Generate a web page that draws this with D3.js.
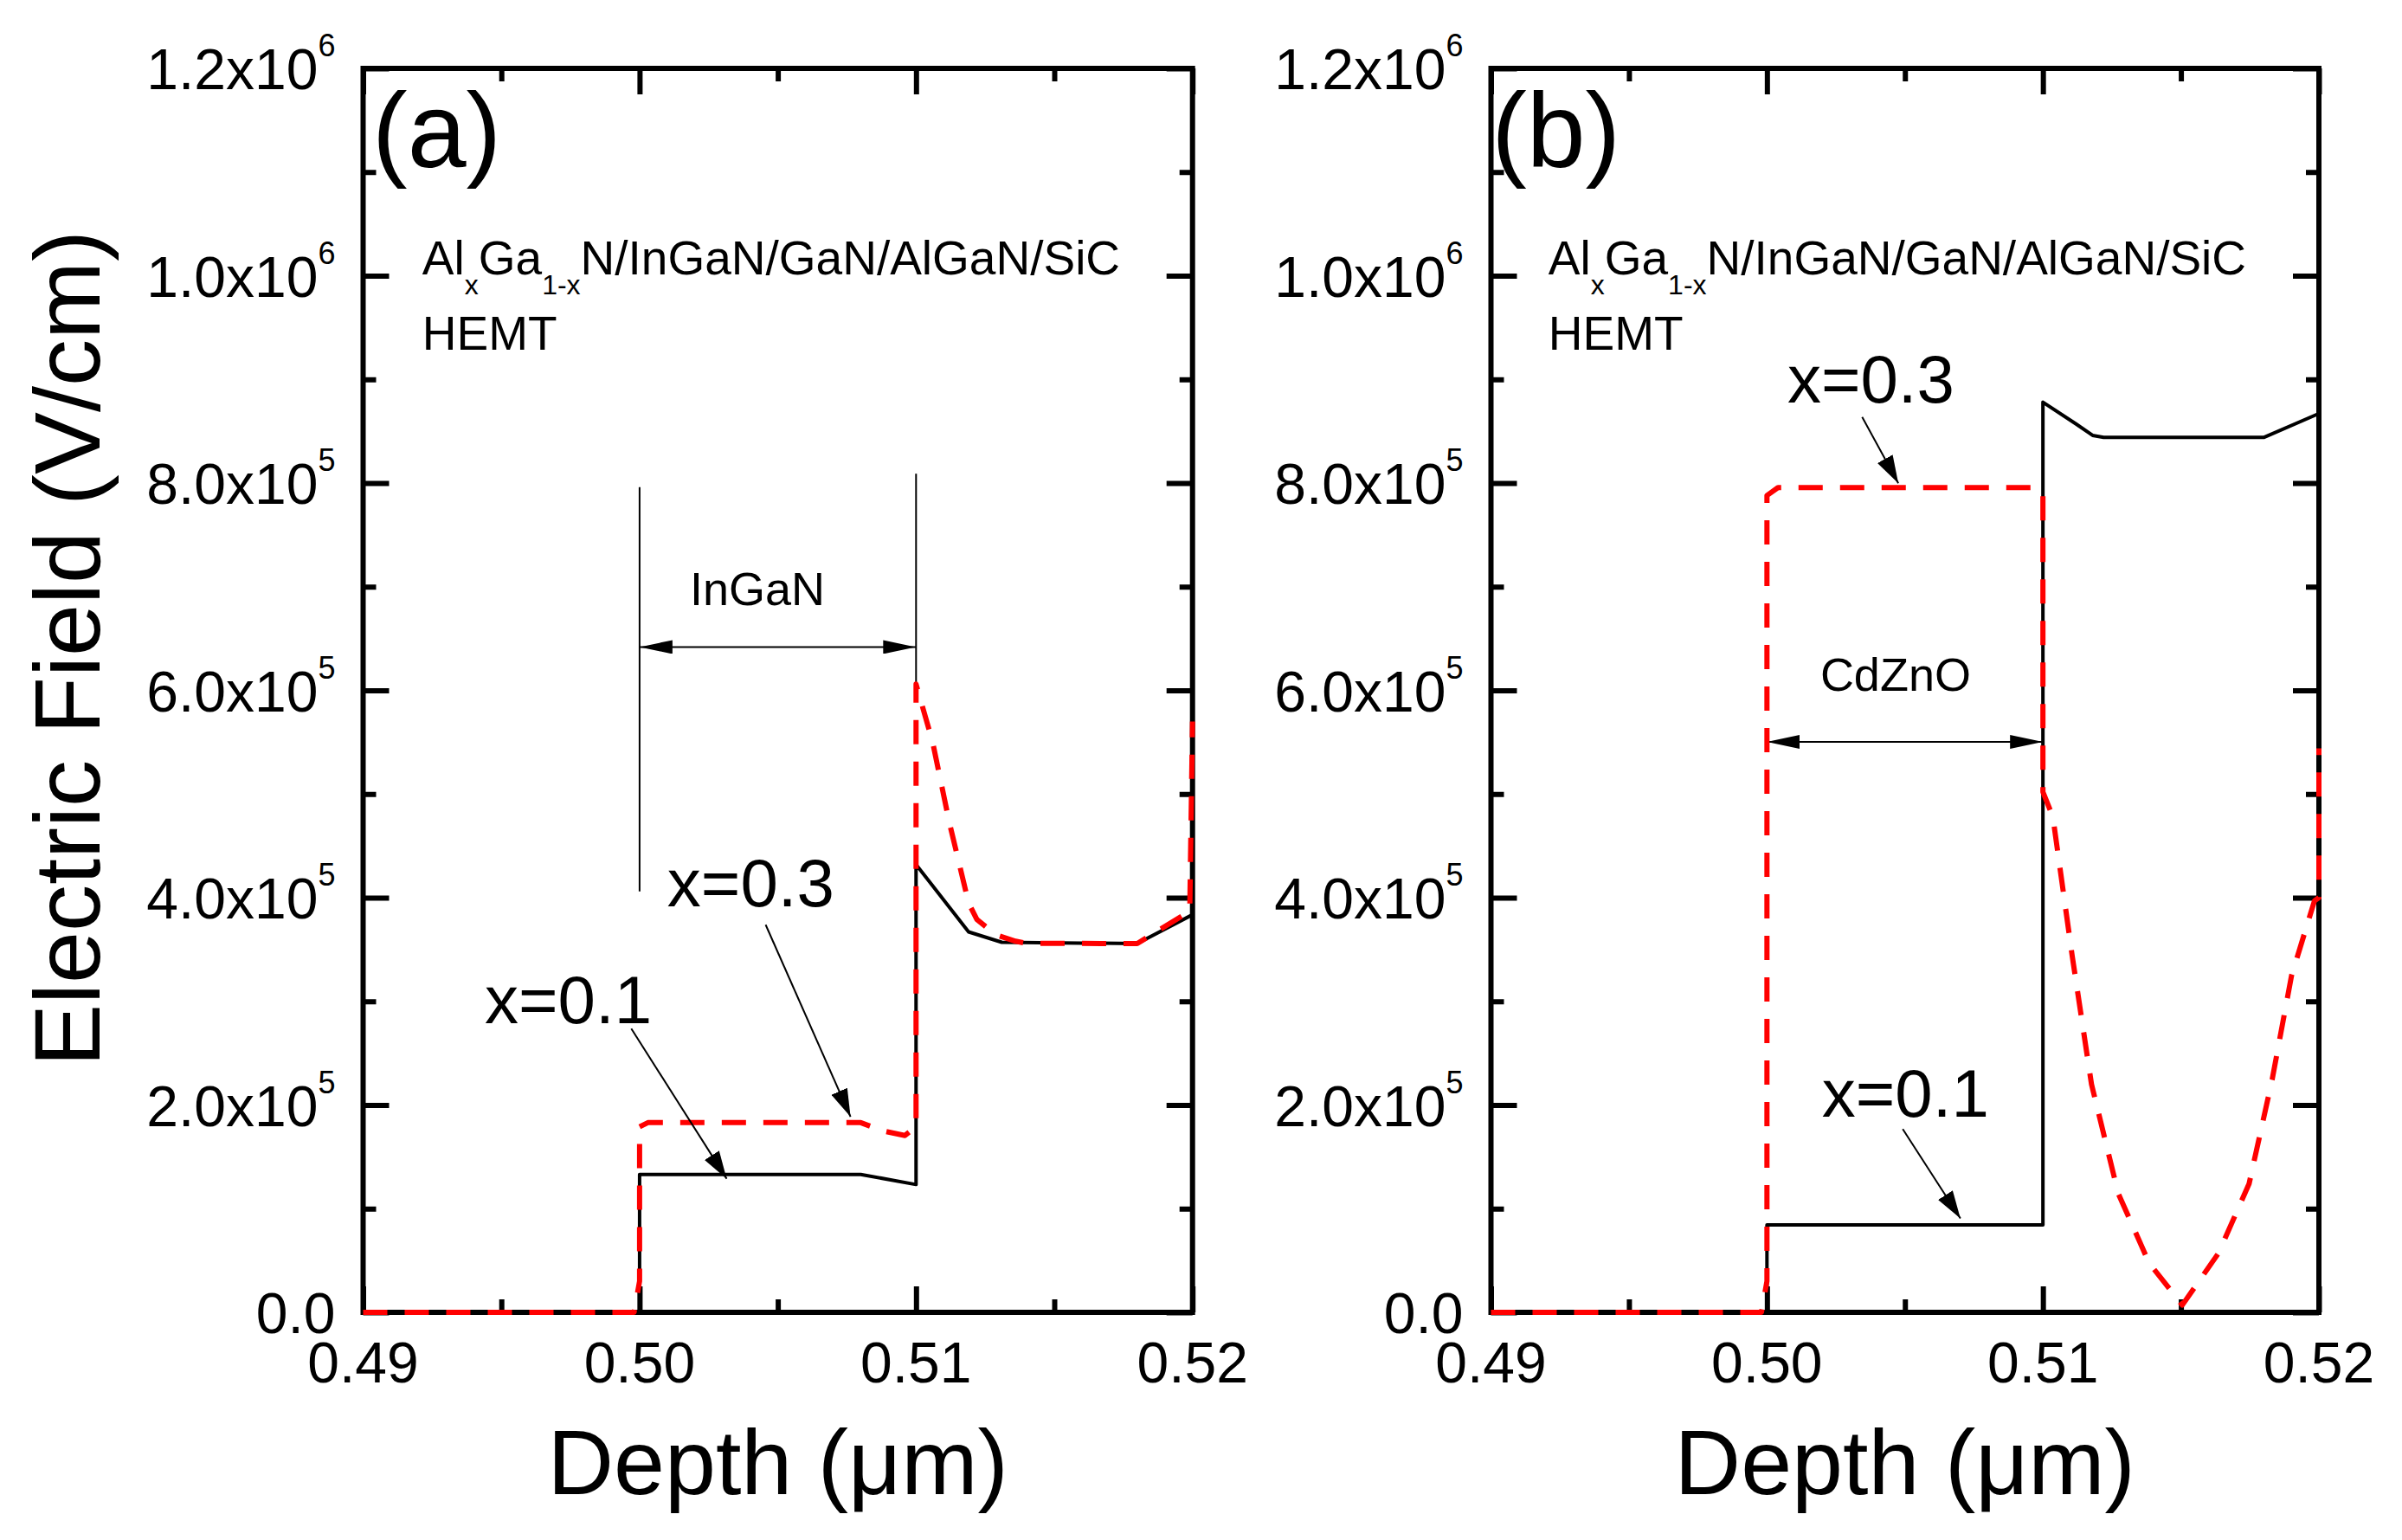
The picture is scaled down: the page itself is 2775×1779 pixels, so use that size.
<!DOCTYPE html>
<html>
<head>
<meta charset="utf-8">
<script src="https://cdn.jsdelivr.net/npm/d3@7"></script>
<style>
  body { margin: 0; background: #fff; }
  text { font-family: "Liberation Sans", Arial, sans-serif; fill: #000; }
</style>
</head>
<body>
<svg id="chart" width="2775" height="1779"></svg>
<script>
// Axis ticks and labels
const depthTicks = [0.49, 0.50, 0.51, 0.52];
const depthTickLabels = ["0.49", "0.50", "0.51", "0.52"];
const depthMinorTicks = [0.495, 0.505, 0.515];
const fieldTicks = [0, 2e5, 4e5, 6e5, 8e5, 1e6, 1.2e6];
const fieldTickMantissa = ["0.0", "2.0", "4.0", "6.0", "8.0", "1.0", "1.2"];
const fieldTickExponent = ["", "5", "5", "5", "5", "6", "6"];
const fieldMinorTicks = [1e5, 3e5, 5e5, 7e5, 9e5, 1.1e6];

// Panel (a): InGaN layer, [depth (um), field (V/cm)]
const ingan_x01 = [
  [0.49, 0], [0.50, 0], [0.50, 1.33e5], [0.508, 1.33e5], [0.51, 1.233e5],
  [0.51, 4.32e5], [0.5119, 3.67e5], [0.5131, 3.57e5], [0.518, 3.557e5], [0.52, 3.836e5]
];
const ingan_x03 = [
  [0.49, 0], [0.4998, 0], [0.50, 0.3e5], [0.50, 1.79e5], [0.5003, 1.83e5], [0.508, 1.83e5],
  [0.5088, 1.75e5], [0.5096, 1.706e5], [0.51, 1.79e5], [0.51, 6.06e5], [0.5106, 5.5e5],
  [0.5112, 4.73e5], [0.5119, 3.95e5], [0.5122, 3.79e5], [0.5129, 3.64e5], [0.5136, 3.58e5],
  [0.514, 3.56e5], [0.518, 3.557e5], [0.5199, 3.87e5], [0.52, 5.70e5]
];

// Panel (b): CdZnO layer
const cdzno_x01 = [
  [0.49, 0], [0.50, 0], [0.50, 0.843e5], [0.51, 0.843e5], [0.51, 8.78e5],
  [0.5112, 8.57e5], [0.5118, 8.46e5], [0.5122, 8.44e5], [0.518, 8.44e5], [0.52, 8.67e5]
];
const cdzno_x03 = [
  [0.49, 0], [0.4998, 0], [0.50, 0.3e5], [0.50, 7.88e5], [0.5004, 7.956e5], [0.5098, 7.956e5],
  [0.51, 7.88e5], [0.51, 5.02e5], [0.51036, 4.78e5], [0.51106, 3.44e5], [0.51176, 2.20e5],
  [0.51273, 1.146e5], [0.51385, 0.475e5], [0.51505, 0.07e5], [0.51636, 0.57e5],
  [0.51747, 1.24e5], [0.51831, 2.25e5], [0.51901, 3.25e5], [0.51984, 3.97e5],
  [0.52, 4.0e5], [0.52, 5.44e5]
];

const svg = d3.select("#chart");
const plotTop = 79, plotBottom = 1516;

// arrow heads
const defs = svg.append("defs");
defs.append("marker")
  .attr("id", "head")
  .attr("viewBox", "0 0 32 20")
  .attr("refX", 32).attr("refY", 10)
  .attr("markerWidth", 32).attr("markerHeight", 20)
  .attr("markerUnits", "userSpaceOnUse")
  .attr("orient", "auto")
  .append("path").attr("d", "M0,0L32,10L0,20Z").attr("fill", "#000");
defs.append("marker")
  .attr("id", "dhead")
  .attr("viewBox", "0 0 38 16")
  .attr("refX", 38).attr("refY", 8)
  .attr("markerWidth", 38).attr("markerHeight", 16)
  .attr("markerUnits", "userSpaceOnUse")
  .attr("orient", "auto-start-reverse")
  .append("path").attr("d", "M0,0L38,8L0,16Z").attr("fill", "#000");

function drawPanel(p) {
  const x = d3.scaleLinear().domain([0.49, 0.52]).range([p.left, p.right]);
  const y = d3.scaleLinear().domain([0, 1.2e6]).range([plotBottom, plotTop]);
  const g = svg.append("g");

  // frame
  g.append("rect")
    .attr("x", p.left).attr("y", plotTop)
    .attr("width", p.right - p.left).attr("height", plotBottom - plotTop)
    .attr("fill", "none").attr("stroke", "#000").attr("stroke-width", 6);

  // inward ticks on all four sides
  const sides = [
    [d3.axisBottom(x), depthTicks, depthMinorTicks, `translate(0,${plotBottom})`],
    [d3.axisTop(x), depthTicks, depthMinorTicks, `translate(0,${plotTop})`],
    [d3.axisLeft(y), fieldTicks, fieldMinorTicks, `translate(${p.left},0)`],
    [d3.axisRight(y), fieldTicks, fieldMinorTicks, `translate(${p.right},0)`]
  ];
  sides.forEach(([axis, major, minor, tr]) => {
    [[major, -30], [minor, -15]].forEach(([vals, size]) => {
      const a = g.append("g")
        .attr("transform", tr)
        .call(axis.tickValues(vals).tickSize(size).tickFormat(""));
      a.select(".domain").remove();
      a.selectAll("line").attr("stroke", "#000").attr("stroke-width", 6);
    });
  });

  // x tick labels
  g.selectAll(".xlab").data(depthTicks).enter().append("text")
    .attr("x", d => x(d)).attr("y", 1597)
    .attr("text-anchor", "middle").attr("font-size", 66)
    .text((d, i) => depthTickLabels[i]);

  // y tick labels with superscript exponents
  fieldTicks.forEach((v, i) => {
    const t = g.append("text")
      .attr("x", p.left - 32).attr("y", y(v) + 24)
      .attr("text-anchor", "end").attr("font-size", 66);
    if (fieldTickExponent[i]) {
      t.append("tspan").text(fieldTickMantissa[i] + "x10");
      t.append("tspan").attr("dy", -38).attr("font-size", 36).text(fieldTickExponent[i]);
    } else {
      t.text(fieldTickMantissa[i]);
    }
  });

  // layer guide lines and width arrow
  p.guides.forEach(([d, f0, f1]) => {
    g.append("line")
      .attr("x1", x(d)).attr("x2", x(d)).attr("y1", y(f0)).attr("y2", y(f1))
      .attr("stroke", "#000").attr("stroke-width", 2);
  });
  g.append("line")
    .attr("x1", x(0.50)).attr("x2", x(0.51))
    .attr("y1", y(p.spanField)).attr("y2", y(p.spanField))
    .attr("stroke", "#000").attr("stroke-width", 2)
    .attr("marker-start", "url(#dhead)").attr("marker-end", "url(#dhead)");
  g.append("text")
    .attr("x", x(p.layerPos[0])).attr("y", y(p.layerPos[1]))
    .attr("text-anchor", "middle").attr("font-size", 54)
    .text(p.layer);

  // curves: black solid under red dashed
  const line = d3.line().x(d => x(d[0])).y(d => y(d[1]));
  g.append("path").datum(p.black).attr("d", line)
    .attr("fill", "none").attr("stroke", "#000").attr("stroke-width", 4)
    .attr("stroke-linejoin", "round");
  g.append("path").datum(p.red).attr("d", line)
    .attr("fill", "none").attr("stroke", "#ff0000").attr("stroke-width", 6)
    .attr("stroke-dasharray", "28,20").attr("stroke-linejoin", "round");

  // panel letter and structure name
  g.append("text")
    .attr("x", x(p.letterPos[0])).attr("y", y(p.letterPos[1]))
    .attr("font-size", 122).text(p.letter);
  const m = g.append("text")
    .attr("x", x(p.titlePos[0])).attr("y", y(p.titlePos[1]))
    .attr("font-size", 55);
  m.append("tspan").text("Al");
  m.append("tspan").attr("dy", 23).attr("font-size", 32).text("x");
  m.append("tspan").attr("dy", -23).text("Ga");
  m.append("tspan").attr("dy", 23).attr("font-size", 32).text("1-x");
  m.append("tspan").attr("dy", -23).text("N/InGaN/GaN/AlGaN/SiC");
  g.append("text")
    .attr("x", x(p.titlePos[0])).attr("y", y(p.titlePos[1] - 0.72e5))
    .attr("font-size", 55).text("HEMT");

  // composition call-outs
  p.callouts.forEach(c => {
    g.append("text")
      .attr("x", x(c.text[0])).attr("y", y(c.text[1]))
      .attr("font-size", 78).text(c.label);
    g.append("line")
      .attr("x1", x(c.from[0])).attr("y1", y(c.from[1]))
      .attr("x2", x(c.to[0])).attr("y2", y(c.to[1]))
      .attr("stroke", "#000").attr("stroke-width", 2)
      .attr("marker-end", "url(#head)");
  });

  // x axis title
  g.append("text")
    .attr("x", (p.left + p.right) / 2).attr("y", 1726)
    .attr("text-anchor", "middle").attr("font-size", 106)
    .text("Depth (\u03bcm)");
}

drawPanel({
  left: 419.5, right: 1377.7,
  black: ingan_x01, red: ingan_x03,
  letter: "(a)", letterPos: [0.49033, 11.05e5],
  titlePos: [0.49214, 10.01e5],
  layer: "InGaN", layerPos: [0.50426, 6.82e5],
  spanField: 6.418e5,
  guides: [[0.50, 7.96e5, 4.06e5], [0.51, 8.09e5, 6.06e5]],
  callouts: [
    { label: "x=0.1", text: [0.4944, 2.79e5], from: [0.4997, 2.737e5], to: [0.50315, 1.289e5] },
    { label: "x=0.3", text: [0.5010, 3.917e5], from: [0.50456, 3.739e5], to: [0.50763, 1.887e5] }
  ]
});

drawPanel({
  left: 1722.5, right: 2679,
  black: cdzno_x01, red: cdzno_x03,
  letter: "(b)", letterPos: [0.49002, 11.05e5],
  titlePos: [0.49208, 10.01e5],
  layer: "CdZnO", layerPos: [0.50466, 5.993e5],
  spanField: 5.503e5,
  guides: [],
  callouts: [
    { label: "x=0.3", text: [0.50074, 8.777e5], from: [0.50345, 8.637e5], to: [0.50476, 7.998e5] },
    { label: "x=0.1", text: [0.50199, 1.887e5], from: [0.50492, 1.768e5], to: [0.50701, 0.906e5] }
  ]
});

// shared y axis title
svg.append("text")
  .attr("transform", "translate(115,749) rotate(-90)")
  .attr("text-anchor", "middle").attr("font-size", 108)
  .text("Electric Field (V/cm)");
</script>
</body>
</html>
